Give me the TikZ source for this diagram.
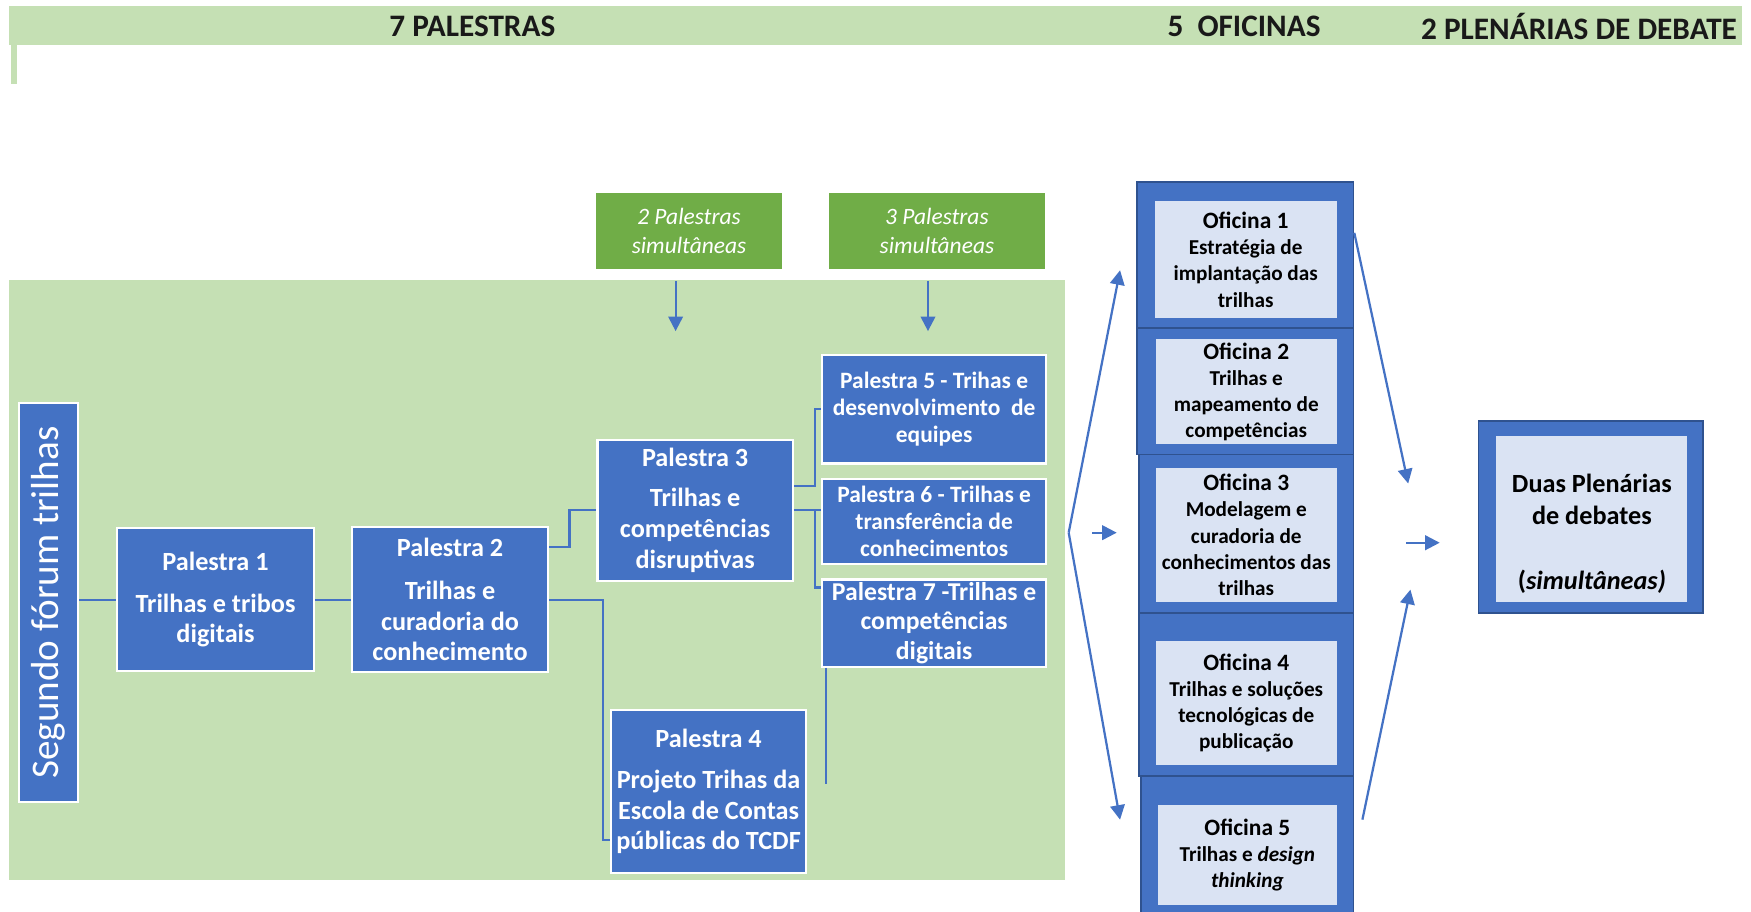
\documentclass[tikz,border=0pt]{standalone}
\usepackage{fontspec}
\setmainfont{Carlito}
\usetikzlibrary{arrows.meta,calc}

\definecolor{boxblue}{HTML}{4472C4}
\definecolor{lightblue}{HTML}{DAE3F3}
\definecolor{bggreen}{HTML}{C5E0B4}
\definecolor{taggreen}{HTML}{70AD47}
\definecolor{darkblue}{HTML}{2F528F}

\newcommand{\oftitle}[1]{{\fontsize{21}{24}\selectfont #1}}

\begin{document}
\begin{tikzpicture}[x=1pt,y=-1pt,
    talk/.style={draw=white,line width=2pt,fill=boxblue,text=white,align=center,inner sep=0pt,
      font=\bfseries\fontsize{23.5}{27.5}\selectfont},
    smalltalk/.style={talk,font=\bfseries\fontsize{21}{24}\selectfont},
    tagbox/.style={fill=taggreen,draw=white,line width=1pt,text=white,align=center,inner sep=0pt,
      font=\itshape\fontsize{21}{26}\selectfont},
    offrame/.style={fill=boxblue,draw=darkblue,line width=1.5pt,inner sep=0pt},
    ofbox/.style={fill=lightblue,inner sep=0pt,align=center,text=black,
      font=\bfseries\fontsize{19}{23.5}\selectfont},
    heading/.style={font=\bfseries\fontsize{28}{32}\selectfont,text=black!90},
    link/.style={draw=boxblue,line width=2pt},
    arr/.style={draw=boxblue,line width=2pt,-{Triangle[width=13pt,length=13pt]}}]
  \useasboundingbox (0,0) rectangle (1568,816);

  % backgrounds
  \fill[bggreen] (8,5) rectangle (1560,40);
  \fill[bggreen] (10,40) rectangle (15,75);
  \fill[bggreen] (8,251) rectangle (954,788);

  \node[heading] (hpal) at (423,24) {7 PALESTRAS};
  \node[heading] (hofi) at (1114,24) {5~~OFICINAS};
  \node[heading] (hple) at (1414,24) {2 PLENÁRIAS DE DEBATE};

  % palestras
  \node[tagbox,minimum width=168,minimum height=69] (tag2) at (617,206.5) {2 Palestras\\simultâneas};
  \node[tagbox,minimum width=194,minimum height=69] (tag3) at (839,206.5) {3 Palestras\\simultâneas};
  \draw[arr] ($(tag2.south)+(-12,10)$) -- ++(0,45);
  \draw[arr] ($(tag3.south)+(-8,10)$) -- ++(0,45);

  \node[talk,font=\fontsize{35}{40}\selectfont,rotate=90,minimum width=357,minimum height=53] (seg) at (43.5,539.5) {Segundo fórum trilhas};
  \node[talk,minimum width=176,minimum height=128] (p1) at (193,537) {Palestra 1\\[10pt]Trilhas e tribos\\digitais};
  \node[talk,minimum width=176,minimum height=130] (p2) at (403,537) {Palestra 2\\[11pt]Trilhas e\\curadoria do\\conhecimento};
  \node[talk,minimum width=175,minimum height=126] (p3) at (622.5,457) {Palestra 3\\[8pt]Trilhas e\\competências\\disruptivas};
  \node[talk,minimum width=175,minimum height=146] (p4) at (634.5,709) {Palestra 4\\[9pt]Projeto Trihas da\\Escola de Contas\\públicas do TCDF};
  \node[smalltalk,minimum width=201,minimum height=97] (p5) at (836.5,366.5) {Palestra 5 - Trihas e\\desenvolvimento~~de\\equipes};
  \node[smalltalk,minimum width=201,minimum height=76] (p6) at (836.5,467) {Palestra 6 - Trilhas e\\transferência de\\conhecimentos};
  \node[talk,font=\bfseries\fontsize{23}{26.5}\selectfont,minimum width=201,minimum height=78] (p7) at (836.5,558) {Palestra 7 -Trilhas e\\competências\\digitais};

  \draw[link] (p1.west -| seg.south) -- (p1.west);
  \draw[link] (p1.east) -- (p2.west);
  \draw[link] ($(p2.east)+(0,-47)$) -- ++(18,0) |- (p3.west);
  \draw[link] (p2.east) -- ++(48,0) |- ($(p4.west)+(0,43)$);
  \draw[link] ($(p3.east)+(0,-22)$) -- ++(19,0) |- (p5.west);
  \draw[link] (p3.east) -- (p3.east -| p6.west);
  \draw[link] ($(p3.east)+(19,0)$) |- ($(p7.west)+(0,-32)$);
  \coordinate (stub) at (740,702);
  \draw[link] (p7.south west -| stub) -- (stub);

  % oficinas
  \node[offrame,minimum width=194,minimum height=131] (of1box) at (1115,228.5) {};
  \node[offrame,minimum width=194,minimum height=113] (of2box) at (1115,350.5) {};
  \node[offrame,minimum width=192,minimum height=142] (of3box) at (1116,478) {};
  \node[offrame,minimum width=192,minimum height=146] (of4box) at (1116,622) {};
  \node[offrame,minimum width=190,minimum height=122] (of5box) at (1117,756) {};
  \node[ofbox,minimum width=163,minimum height=105] (of1) at (1115.5,232.5) {\oftitle{Oficina 1}\\Estratégia de\\implantação das\\trilhas};
  \node[ofbox,minimum width=162,minimum height=94] (of2) at (1116,351) {\oftitle{Oficina 2}\\Trilhas e\\mapeamento de\\competências};
  \node[ofbox,minimum width=162,minimum height=120] (of3) at (1116,479) {\oftitle{Oficina 3}\\Modelagem e\\curadoria de\\conhecimentos das\\trilhas};
  \node[ofbox,minimum width=162,minimum height=111] (of4) at (1116,629.5) {\oftitle{Oficina 4}\\Trilhas e soluções\\tecnológicas de\\publicação};
  \node[ofbox,minimum width=160,minimum height=89] (of5) at (1117,765.5) {\oftitle{Oficina 5}\\Trilhas e \textit{design}\\\textit{thinking}};

  \coordinate (fork) at (957,477);
  \coordinate (up1) at (1003,242);
  \coordinate (dn5) at (1003,734);
  \draw[arr] (fork) -- (up1);
  \draw[arr] (fork) -- (dn5);
  \draw[arr] ($(fork)+(21,0)$) -- ++(22,0);

  % plenarias
  \node[offrame,minimum width=201,minimum height=172] (plenbox) at (1424.5,463) {};
  \node[ofbox,minimum width=171,minimum height=149] (plen) at (1425.5,464.5) {};
  \node[ofbox,fill=none,font=\bfseries\fontsize{23.5}{29}\selectfont] (plentxt) at (1425.5,478) {Duas Plenárias\\de debates\\[29pt](\textit{simultâneas)}};

  \coordinate (in1) at (1261,433);
  \coordinate (out5) at (1220,734);
  \coordinate (in5) at (1263,528);
  \draw[arr] ($(of1box.east)+(0,-20)$) -- (in1);
  \draw[arr] ($(plenbox.west)+(-64,23)$) -- ++(30,0);
  \draw[arr] (out5) -- (in5);
\end{tikzpicture}
\end{document}
